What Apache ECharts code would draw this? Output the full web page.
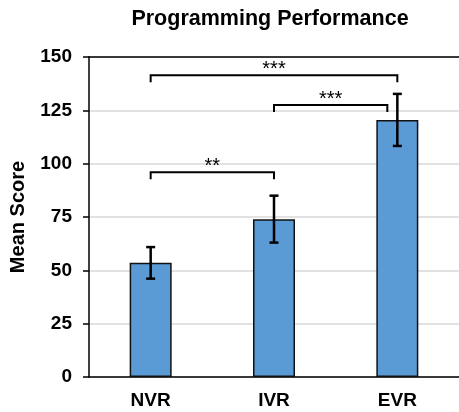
<!DOCTYPE html>
<html>
<head>
<meta charset="utf-8">
<script src="https://cdn.jsdelivr.net/npm/echarts@6/dist/echarts.min.js"></script>
<style>
  html, body { margin: 0; padding: 0; background: #fff; }
  #chart { width: 459px; height: 412px; }
</style>
</head>
<body>
<div id="chart"></div>
<script>
// Mean programming scores per condition, with error bar half-widths
const categories = ['NVR', 'IVR', 'EVR'];
const means = [53.5, 74, 120.5];
const errors = [7.4, 11, 12.2];
const yTicks = { min: 0, max: 150, interval: 25 };

// Significance brackets: [from category, to category, bracket height, label]
const brackets = [
  [0, 1, 96, '**'],
  [1, 2, 127.5, '***'],
  [0, 2, 141.5, '***']
];

const FONT = 'Liberation Sans, Arial, sans-serif';
const BAR_COLOR = '#5B9BD5';

const chart = echarts.init(document.getElementById('chart'), null, { renderer: 'canvas' });

const errorData = categories.map((c, i) => [i, means[i] - errors[i], means[i] + errors[i]]);

function renderError(params, api) {
  const x = api.value(0);
  const lo = api.coord([x, api.value(1)]);
  const hi = api.coord([x, api.value(2)]);
  const cap = 4.5;
  const style = { stroke: '#000', lineWidth: 2.5, fill: null };
  return {
    type: 'group',
    children: [
      { type: 'line', shape: { x1: lo[0], y1: lo[1], x2: hi[0], y2: hi[1] }, style },
      { type: 'line', shape: { x1: hi[0] - cap, y1: hi[1], x2: hi[0] + cap, y2: hi[1] }, style },
      { type: 'line', shape: { x1: lo[0] - cap, y1: lo[1], x2: lo[0] + cap, y2: lo[1] }, style }
    ]
  };
}

function renderBracket(params, api) {
  const from = api.value(0);
  const to = api.value(1);
  const level = api.value(2);
  const label = brackets[params.dataIndex][3];
  const a = api.coord([from, level]);
  const b = api.coord([to, level]);
  // step an end aside when the bracket would run into that bar's error bar
  const inset = 10;
  let x1 = a[0], x2 = b[0];
  if (level < means[from] + errors[from]) x1 += inset;
  if (level < means[to] + errors[to]) x2 -= inset;
  const drop = 7;
  const y = a[1];
  return {
    type: 'group',
    children: [
      {
        type: 'polyline',
        shape: { points: [[x1, y + drop], [x1, y], [x2, y], [x2, y + drop]] },
        style: { stroke: '#000', lineWidth: 2, fill: null }
      },
      {
        type: 'text',
        style: {
          text: label, x: (x1 + x2) / 2, y: y - 6,
          align: 'center', verticalAlign: 'middle',
          font: 'normal 20px ' + FONT, fill: '#000'
        }
      }
    ]
  };
}

const option = {
  animation: false,
  backgroundColor: '#fff',
  title: {
    text: 'Programming Performance',
    left: 265,
    top: 3,
    textAlign: 'center',
    textStyle: { fontFamily: FONT, fontWeight: 'bold', fontSize: 21.5, color: '#000' }
  },
  grid: { left: 86, right: -2, top: 57, bottom: 35 },
  xAxis: [
    {
      type: 'category',
      data: categories,
      axisLine: { lineStyle: { color: '#000', width: 1.5 } },
      axisTick: { alignWithLabel: true, length: 5, lineStyle: { color: '#000', width: 1.5 } },
      axisLabel: { margin: 14, fontFamily: FONT, fontWeight: 'bold', fontSize: 19, color: '#000' }
    },
    {
      type: 'category',
      data: categories,
      position: 'top',
      axisLine: { lineStyle: { color: '#000', width: 1.5 } },
      axisTick: { show: false },
      axisLabel: { show: false }
    }
  ],
  yAxis: {
    type: 'value',
    min: yTicks.min,
    max: yTicks.max,
    interval: yTicks.interval,
    name: 'Mean Score',
    nameLocation: 'middle',
    nameGap: 61,
    nameTextStyle: { fontFamily: FONT, fontWeight: 'bold', fontSize: 20, color: '#000' },
    axisLine: { show: true, lineStyle: { color: '#000', width: 1.5 } },
    axisTick: { show: true, length: 6, lineStyle: { color: '#000', width: 1.5 } },
    axisLabel: { margin: 17, fontFamily: FONT, fontWeight: 'bold', fontSize: 19, color: '#000' },
    splitLine: { lineStyle: { color: '#d9d9d9', width: 1.5 } }
  },
  series: [
    {
      type: 'bar',
      data: means,
      barWidth: 42,
      itemStyle: { color: BAR_COLOR, borderColor: '#111', borderWidth: 1.5 }
    },
    {
      type: 'custom',
      data: errorData,
      renderItem: renderError,
      z: 5
    },
    {
      type: 'custom',
      data: brackets.map(b => [b[0], b[1], b[2]]),
      renderItem: renderBracket,
      z: 6
    }
  ]
};

chart.setOption(option);
</script>
</body>
</html>
